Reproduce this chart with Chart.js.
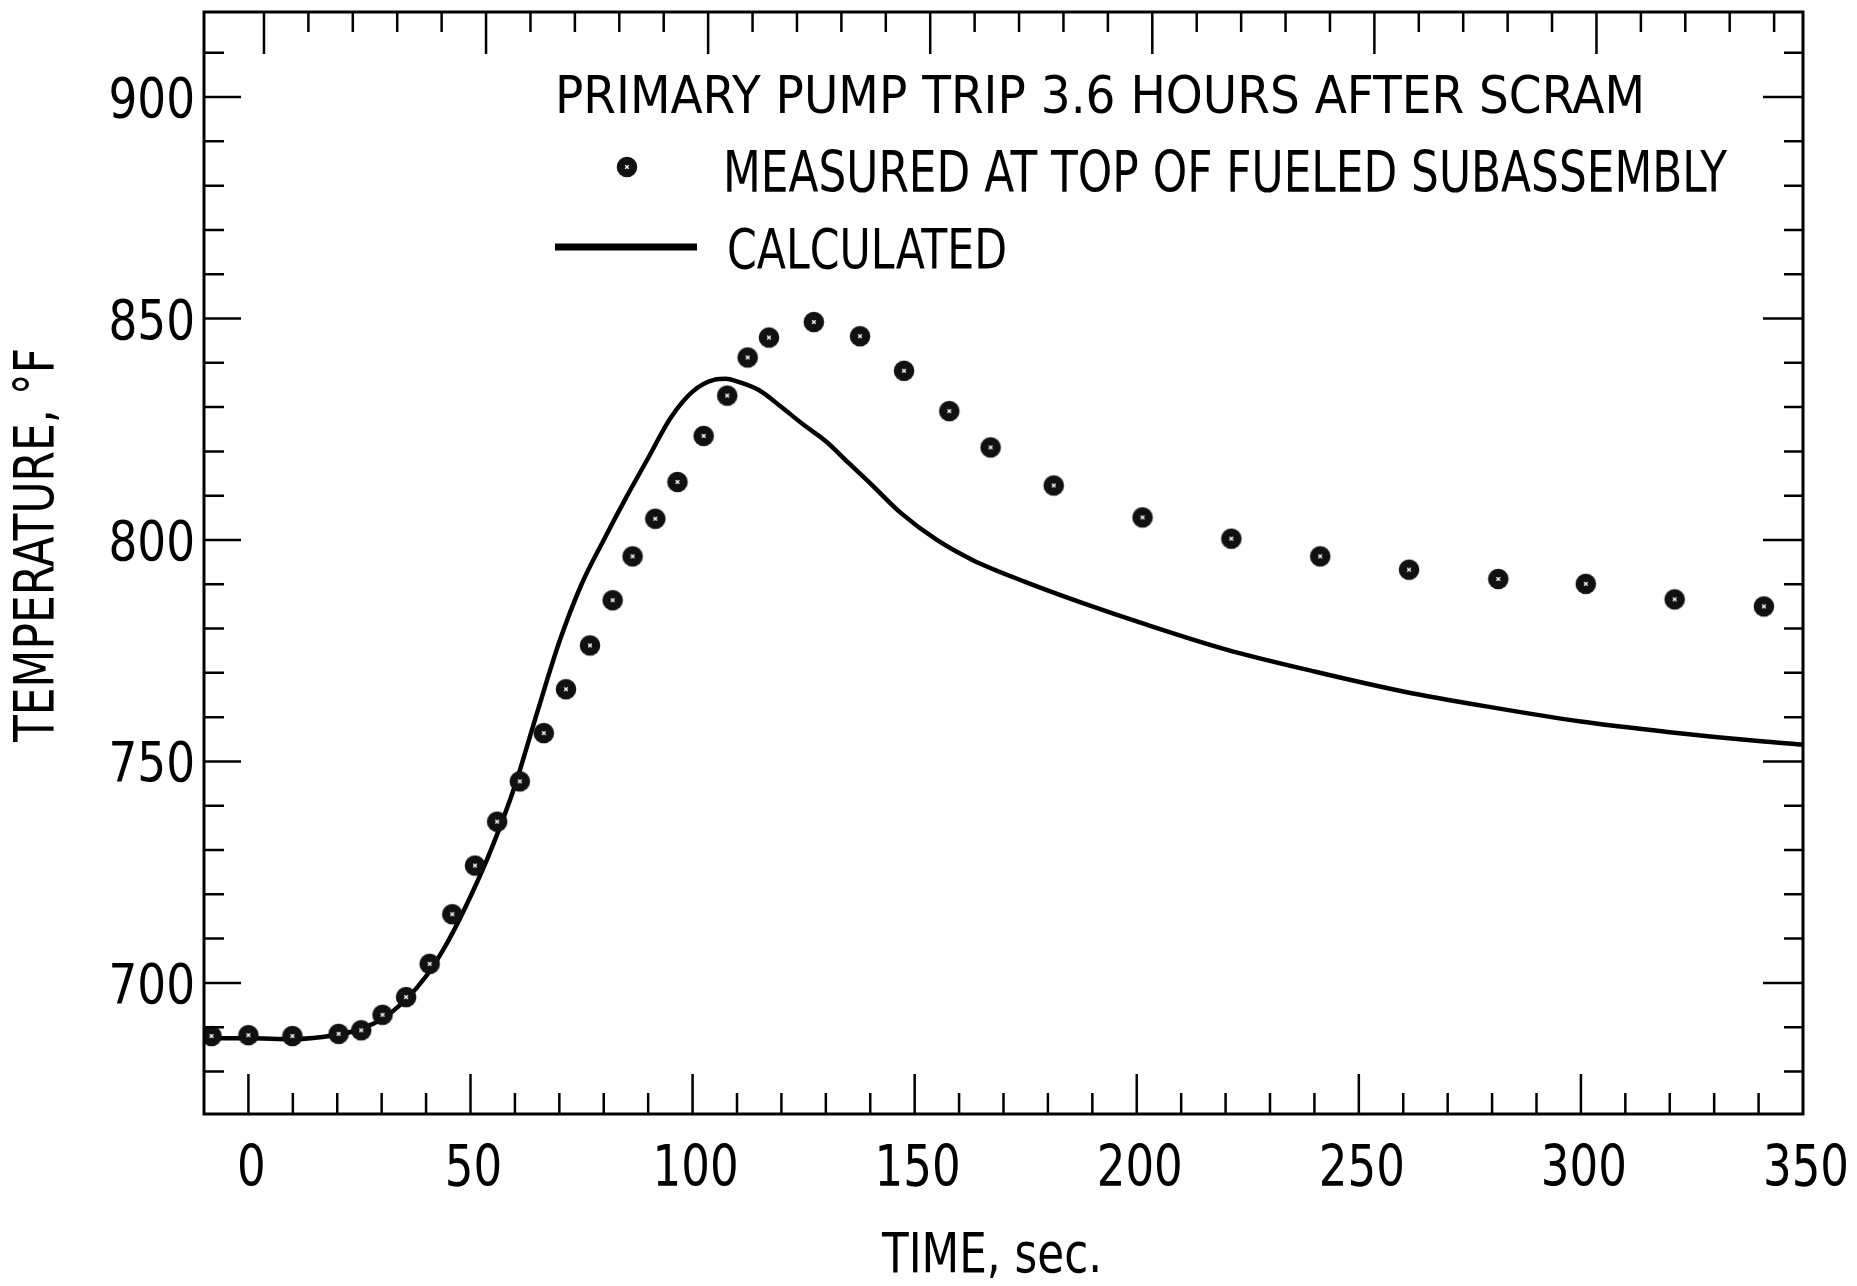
<!DOCTYPE html>
<html>
<head>
<meta charset="utf-8">
<script src="https://cdn.jsdelivr.net/npm/chart.js@4.4.0/dist/chart.umd.min.js"></script>
<style>
html, body { margin: 0; padding: 0; background: #fff; }
</style>
</head>
<body>
<canvas id="myChart" width="1857" height="1286"></canvas>
<script>
// values (time in sec, temperature in deg F)
const measuredTime = [-8.3, 0, 9.9, 20.3, 25.4, 30.2, 35.5, 40.8, 45.9, 51, 56, 61.1, 66.5, 71.5, 76.9, 82, 86.5, 91.6, 96.6, 102.5, 107.8, 112.4, 117.2, 127.3, 137.7, 147.6, 157.8, 167.1, 181.3, 201.3, 221.3, 241.3, 261.3, 281.4, 301.1, 321.1, 341.2]
const measuredTemp = [688, 688.2, 688, 688.5, 689.3, 692.8, 696.8, 704.3, 715.5, 726.5, 736.4, 745.5, 756.4, 766.3, 776.2, 786.4, 796.3, 804.8, 813.1, 823.5, 832.6, 841.2, 845.7, 849.2, 846, 838.2, 829.1, 820.9, 812.3, 805.1, 800.3, 796.3, 793.3, 791.2, 790.1, 786.6, 785]

const calcTime = [-10, 0, 10, 20, 25, 30, 35, 40, 45, 50, 55, 60, 65, 70, 75, 80, 85, 90, 95, 100, 105, 107.5, 110, 115, 120, 125, 130, 135, 140, 147, 155, 163, 175, 190, 200, 220, 240, 260, 280, 300, 320, 340, 350]
const calcTemp = [687.5, 687.5, 687.3, 688.3, 689.5, 691.8, 695.8, 701.5, 709.5, 719.5, 731, 744.5, 761, 777, 790, 800, 809.5, 818.5, 827.5, 833.5, 836.2, 836.4, 835.8, 833.8, 830, 826, 822.3, 817.5, 812.8, 806, 800, 795.5, 790.5, 785, 781.6, 775.3, 770.3, 765.8, 762.2, 759, 756.6, 754.6, 753.8]

const xTicks = [0, 50, 100, 150, 200, 250, 300, 350]
const yTicks = [700, 750, 800, 850, 900]

const headline = 'PRIMARY PUMP TRIP 3.6 HOURS AFTER SCRAM'
const legendLabels = ['MEASURED AT TOP OF FUELED SUBASSEMBLY', 'CALCULATED']
const xTitle = 'TIME, sec.'
const yTitle = 'TEMPERATURE, °F'

const FONT = "'DejaVu Sans Condensed', 'DejaVu Sans', sans-serif"
Chart.defaults.font.family = FONT
Chart.defaults.color = '#000'

// black dot with a little white cross, like the inked symbols
function makeDot() {
	const c = document.createElement('canvas')
	c.width = 24; c.height = 24
	const g = c.getContext('2d')
	g.fillStyle = '#111'
	g.beginPath(); g.arc(12, 12, 10.3, 0, Math.PI * 2); g.fill()
	g.strokeStyle = '#fff'; g.lineWidth = 1.3
	g.beginPath()
	g.moveTo(10.2, 10.2); g.lineTo(13.8, 13.8)
	g.moveTo(13.8, 10.2); g.lineTo(10.2, 13.8)
	g.stroke()
	return c
}
const dot = makeDot()

// stencil lettering is narrower than any installed face: squeeze it
function squeezed(ctx, text, x, y, size, sx, align) {
	ctx.save()
	ctx.font = `${size}px ${FONT}`
	ctx.textBaseline = 'alphabetic'
	ctx.textAlign = align
	ctx.translate(x, y)
	ctx.scale(sx, 1)
	ctx.fillText(text, 0, 0)
	ctx.restore()
}
function fitText(ctx, text, x, y, width, size) {
	ctx.save()
	ctx.font = `${size}px ${FONT}`
	const w = ctx.measureText(text).width
	ctx.restore()
	squeezed(ctx, text, x, y, size, width / w, 'left')
}

const frame = {
	id: 'frame',
	beforeDraw(chart) {
		const ctx = chart.ctx
		ctx.save()
		ctx.fillStyle = '#fff'
		ctx.fillRect(0, 0, chart.width, chart.height)
		ctx.restore()
	},
	afterDraw(chart) {
		const {ctx, chartArea: a, scales: {x, y}} = chart
		ctx.save()
		ctx.strokeStyle = '#000'
		ctx.fillStyle = '#000'
		ctx.lineCap = 'butt'

		// inward ticks, every 10, longer at every 50 (top row sits a bit off on the original)
		ctx.lineWidth = 2.5
		for (let v = 0; v < 350; v += 10) {
			const big = v % 50 === 0
			const pb = x.getPixelForValue(v)
			const pt = x.getPixelForValue(v + 3.5)
			ctx.beginPath()
			ctx.moveTo(pb, a.bottom); ctx.lineTo(pb, a.bottom - (big ? 40 : 21))
			ctx.moveTo(pt, a.top); ctx.lineTo(pt, a.top + (big ? 42 : 20))
			ctx.stroke()
		}
		for (let v = 680; v <= 910; v += 10) {
			const py = y.getPixelForValue(v)
			const big = v % 50 === 0
			ctx.beginPath()
			ctx.moveTo(a.left, py); ctx.lineTo(a.left + (big ? 37 : 20), py)
			ctx.moveTo(a.right, py); ctx.lineTo(a.right - (big ? 40 : 19), py)
			ctx.stroke()
		}

		ctx.lineWidth = 3
		ctx.strokeRect(a.left, a.top, a.right - a.left, a.bottom - a.top)

		// tick labels
		x.ticks.forEach(t => squeezed(ctx, String(t.value), x.getPixelForValue(t.value) + 3, a.bottom + 72, 57, 0.88, 'center'))
		y.ticks.forEach(t => squeezed(ctx, String(t.value), a.left - 9, y.getPixelForValue(t.value) + 20, 56, 0.9, 'right'))

		// axis titles
		fitText(ctx, xTitle, 882, 1272, 220, 55)
		ctx.save()
		ctx.translate(53, 742)
		ctx.rotate(-Math.PI / 2)
		fitText(ctx, yTitle, 0, 0, 394, 55)
		ctx.restore()

		// legend block inside the plot
		fitText(ctx, headline, 555, 113, 1090, 52)
		ctx.drawImage(dot, 627 - 12, 167 - 12)
		fitText(ctx, legendLabels[0], 723, 192, 1004, 57)
		ctx.lineWidth = 7
		ctx.beginPath(); ctx.moveTo(555, 247); ctx.lineTo(697, 247); ctx.stroke()
		fitText(ctx, legendLabels[1], 727, 268, 280, 56)
		ctx.restore()
	}
}

const ctx = document.getElementById('myChart').getContext('2d')
const myChart = new Chart(ctx, {
	type: 'scatter',
	data: {
		datasets: [{
			label: legendLabels[0],
			data: measuredTime.map((t, i) => ({x: t, y: measuredTemp[i]})),
			pointStyle: dot,
			pointRadius: 11,
			showLine: false
		}, {
			label: legendLabels[1],
			data: calcTime.map((t, i) => ({x: t, y: calcTemp[i]})),
			showLine: true,
			borderColor: '#000',
			borderWidth: 4.5,
			pointRadius: 0,
			tension: 0.4,
			cubicInterpolationMode: 'monotone'
		}]
	},
	options: {
		responsive: false,
		animation: false,
		devicePixelRatio: 1,
		layout: { padding: { top: 12, right: 54, bottom: 0, left: 0 } },
		plugins: { legend: { display: false }, tooltip: { enabled: false } },
		scales: {
			x: {
				type: 'linear',
				min: -10,
				max: 350,
				afterBuildTicks: s => { s.ticks = xTicks.map(v => ({value: v})) },
				afterFit: s => { s.height = 172; s.paddingLeft = 0; s.paddingRight = 0 },
				grid: { display: false, drawTicks: false },
				border: { display: false },
				ticks: { display: false },
				title: { display: false }
			},
			y: {
				type: 'linear',
				min: 670.4,
				max: 919.2,
				afterBuildTicks: s => { s.ticks = yTicks.map(v => ({value: v})) },
				afterFit: s => { s.width = 204; s.paddingTop = 0; s.paddingBottom = 0 },
				grid: { display: false, drawTicks: false },
				border: { display: false },
				ticks: { display: false },
				title: { display: false }
			}
		}
	},
	plugins: [frame]
})
</script>
</body>
</html>
